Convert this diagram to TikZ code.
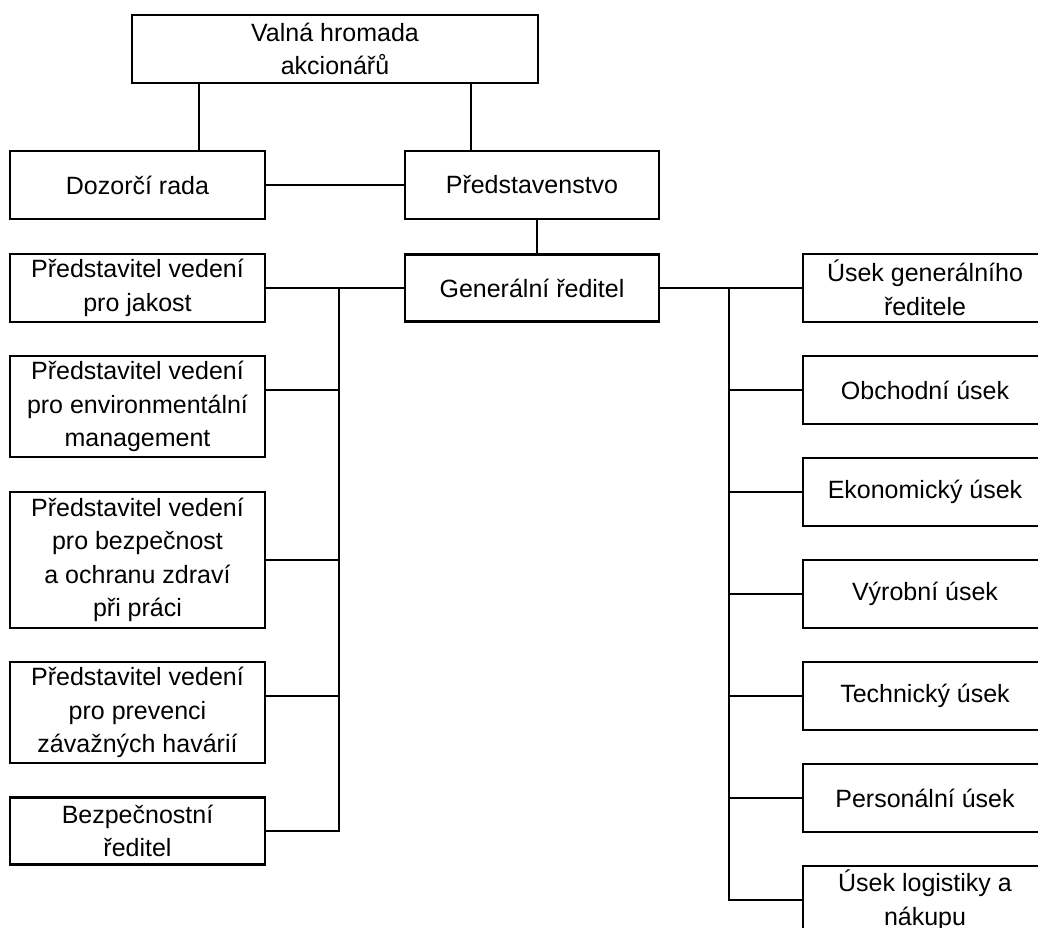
\documentclass[tikz,border=0pt]{standalone}
\usepackage{fontspec}
\setmainfont{Liberation Sans}
\usepackage{tikz}

\begin{document}
\begin{tikzpicture}[x=1pt, y=-1pt,
	box/.style={draw, line width=2.4pt, rectangle, align=center, inner sep=0pt,
		minimum width=255pt, minimum height=68pt,
		font=\fontsize{25}{33.5}\selectfont},
	link/.style={line width=2.4pt, line cap=rect}]
	\useasboundingbox (0,0) rectangle (1038,928);
	\clip (0,0) rectangle (1038,928);
	\fill[white] (0,0) rectangle (1038,928);

	\node[box, minimum width=406pt] (valna) at (335,49) {Valná hromada\\akcionářů};
	\node[box] (dozorci) at (137.5,185) {Dozorčí rada};
	\node[box, minimum width=254pt] (predst) at (532,185) {Představenstvo};
	\node[box, minimum width=254pt, minimum height=67pt] (gen) at (532,288) {Generální ředitel};

	\node[box] (jakost) at (137.5,288) {Představitel vedení\\pro jakost};
	\node[box, minimum height=101pt] (env) at (137.5,406.5) {Představitel vedení\\pro environmentální\\management};
	\node[box, minimum height=136pt] (bozp) at (137.5,560) {Představitel vedení\\pro bezpečnost\\a ochranu zdraví\\při práci};
	\node[box, minimum height=101pt] (prev) at (137.5,712.5) {Představitel vedení\\pro prevenci\\závažných havárií};
	\node[box, minimum height=67pt] (bezpred) at (137.5,831) {Bezpečnostní\\ředitel};

	\node[box, minimum width=244pt] (ugr) at (925,288) {Úsek generálního\\ředitele};
	\node[box, minimum width=244pt] (obch) at (925,390) {Obchodní úsek};
	\node[box, minimum width=244pt] (ekon) at (925,492) {Ekonomický úsek};
	\node[box, minimum width=244pt] (vyr) at (925,594) {Výrobní úsek};
	\node[box, minimum width=244pt] (tech) at (925,696) {Technický úsek};
	\node[box, minimum width=244pt] (pers) at (925,798) {Personální úsek};
	\node[box, minimum width=244pt] (logist) at (925,900) {Úsek logistiky a\\nákupu};

	\coordinate (vl) at (199,0);
	\coordinate (vr) at (471,0);
	\coordinate (pg) at (537,0);
	\coordinate (lbus) at (339,0);
	\coordinate (rbus) at (729,0);

	\draw[link] (valna.south -| vl) -- (dozorci.north -| vl);
	\draw[link] (valna.south -| vr) -- (predst.north -| vr);
	\draw[link] (dozorci.east) -- (predst.west);
	\draw[link] (predst.south -| pg) -- (gen.north -| pg);

	\draw[link] (gen.west) -- (jakost.east);
	\draw[link] (jakost.east -| lbus) -- (bezpred.east -| lbus);
	\draw[link] ([yshift=16.5pt]env.east) coordinate (envc) -- (envc -| lbus);
	\draw[link] (bozp.east) -- (bozp.east -| lbus);
	\draw[link] ([yshift=16.5pt]prev.east) coordinate (prevc) -- (prevc -| lbus);
	\draw[link] (bezpred.east) -- (bezpred.east -| lbus);

	\draw[link] (gen.east) -- (ugr.west);
	\draw[link] (ugr.west -| rbus) -- (logist.west -| rbus);
	\draw[link] (obch.west) -- (obch.west -| rbus);
	\draw[link] (ekon.west) -- (ekon.west -| rbus);
	\draw[link] (vyr.west) -- (vyr.west -| rbus);
	\draw[link] (tech.west) -- (tech.west -| rbus);
	\draw[link] (pers.west) -- (pers.west -| rbus);
	\draw[link] (logist.west) -- (logist.west -| rbus);
\end{tikzpicture}
\end{document}
